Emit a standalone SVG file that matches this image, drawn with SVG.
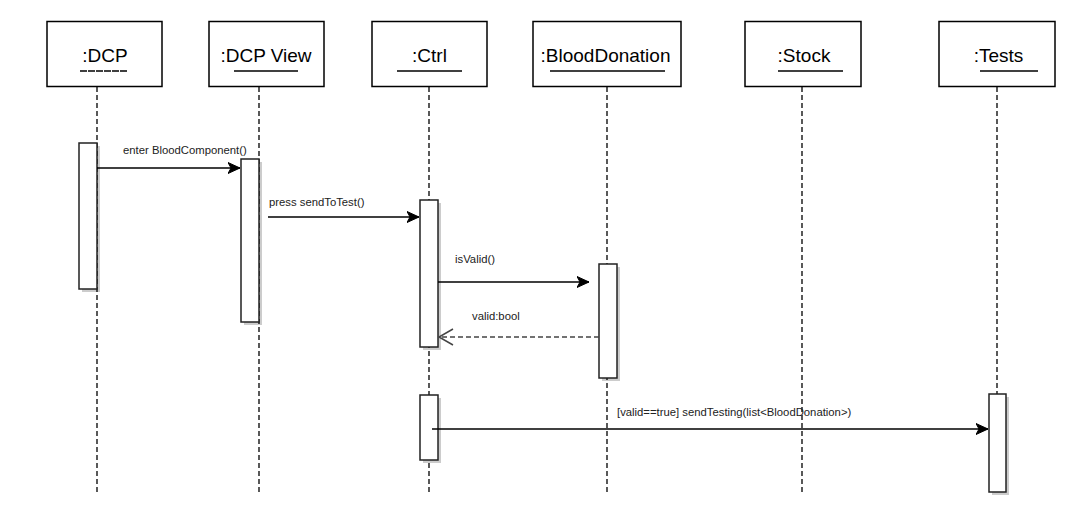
<svg xmlns="http://www.w3.org/2000/svg" width="1067" height="530" viewBox="0 0 1067 530">
<style>
.hdr{fill:#fff;stroke:#000;stroke-width:1.5}
.ht{font-family:"Liberation Sans",Arial,sans-serif;font-size:19px;fill:#000;text-anchor:middle}
.ul{stroke:#000;stroke-width:1.3}
.life{stroke:#000;stroke-width:1.3;stroke-dasharray:5,3;fill:none}
.act{fill:#fff;stroke:#222;stroke-width:1.5}
.sh{fill:#000;opacity:0.2}
.msg{stroke:#000;stroke-width:1.5;fill:none}
.ret{stroke:#444;stroke-width:1.5;stroke-dasharray:5,3;fill:none}
.lbl{font-family:"Liberation Sans",Arial,sans-serif;font-size:11.3px;fill:#222}
</style>
<defs>
<marker id="blk" markerUnits="userSpaceOnUse" markerWidth="14" markerHeight="12" refX="12" refY="6" orient="auto">
<path d="M0,0.5 L12,6 L0,11.5 L3,6 Z" fill="#000" stroke="#000" stroke-width="1"/>
</marker>
<marker id="opn" markerUnits="userSpaceOnUse" markerWidth="18" markerHeight="20" refX="15" refY="9" orient="auto">
<path d="M1,1 L15,9 L1,17" fill="none" stroke="#444" stroke-width="1.5" stroke-dasharray="none"/>
</marker>
</defs>
<rect width="1067" height="530" fill="#fff"/>

<g id="dcp">
<line class="life" x1="97" y1="87" x2="97" y2="494"/>
<rect class="hdr" x="47" y="21.5" width="115" height="65"/>
<text class="ht" x="105" y="62">:DCP</text>
<line class="ul" x1="80" y1="71" x2="128" y2="71" stroke-dasharray="7,1"/>
<rect class="sh" x="82" y="146" width="18" height="146"/>
<rect class="act" x="79" y="143" width="18" height="146"/>
</g>

<g id="dcpview">
<line class="life" x1="259" y1="87" x2="259" y2="494"/>
<rect class="hdr" x="209" y="21.5" width="115" height="65"/>
<text class="ht" x="266" y="62">:DCP View</text>
<line class="ul" x1="234" y1="71" x2="298" y2="71"/>
<rect class="sh" x="244" y="162" width="18" height="163"/>
<rect class="act" x="241" y="159" width="18" height="163"/>
</g>

<g id="ctrl">
<line class="life" x1="429" y1="87" x2="429" y2="494"/>
<rect class="hdr" x="372" y="21.5" width="115" height="65"/>
<text class="ht" x="429.5" y="62">:Ctrl</text>
<line class="ul" x1="397" y1="71" x2="462" y2="71"/>
<rect class="sh" x="423" y="203" width="18" height="147"/>
<rect class="act" x="420" y="200" width="18" height="147"/>
<rect class="sh" x="423" y="398" width="18" height="65"/>
<rect class="act" x="420" y="395" width="18" height="65"/>
</g>

<g id="blooddonation">
<line class="life" x1="607" y1="87" x2="607" y2="494"/>
<rect class="hdr" x="533" y="21.5" width="148" height="65"/>
<text class="ht" x="605.5" y="62">:BloodDonation</text>
<line class="ul" x1="550" y1="71" x2="665" y2="71"/>
<rect class="sh" x="602" y="267" width="18" height="114"/>
<rect class="act" x="599" y="264" width="18" height="114"/>
</g>

<g id="stock">
<line class="life" x1="802" y1="87" x2="802" y2="494"/>
<rect class="hdr" x="745" y="21.5" width="116" height="65"/>
<text class="ht" x="804" y="62">:Stock</text>
<line class="ul" x1="778" y1="71" x2="843" y2="71"/>
</g>

<g id="tests">
<line class="life" x1="997" y1="87" x2="997" y2="494"/>
<rect class="hdr" x="939" y="21.5" width="116" height="65"/>
<text class="ht" x="998.5" y="62">:Tests</text>
<line class="ul" x1="980" y1="71" x2="1038" y2="71"/>
<rect class="sh" x="992" y="397" width="17" height="98"/>
<rect class="act" x="989" y="394" width="17" height="98"/>
</g>

<g id="connectors">
<line class="msg" x1="97" y1="168" x2="240" y2="168" marker-end="url(#blk)"/>
<text class="lbl" x="123" y="154">enter BloodComponent()</text>
<line class="msg" x1="268" y1="217" x2="419" y2="217" marker-end="url(#blk)"/>
<text class="lbl" x="269" y="206">press sendToTest()</text>
<line class="msg" x1="438" y1="282" x2="589" y2="282" marker-end="url(#blk)"/>
<text class="lbl" x="455" y="263">isValid()</text>
<line class="ret" x1="599" y1="337" x2="439" y2="337" marker-end="url(#opn)"/>
<text class="lbl" x="472" y="319.5">valid:bool</text>
<line class="msg" x1="432" y1="429" x2="988" y2="429" marker-end="url(#blk)"/>
<text class="lbl" x="617" y="416">[valid==true] sendTesting(list&lt;BloodDonation&gt;)</text>
</g>
</svg>
